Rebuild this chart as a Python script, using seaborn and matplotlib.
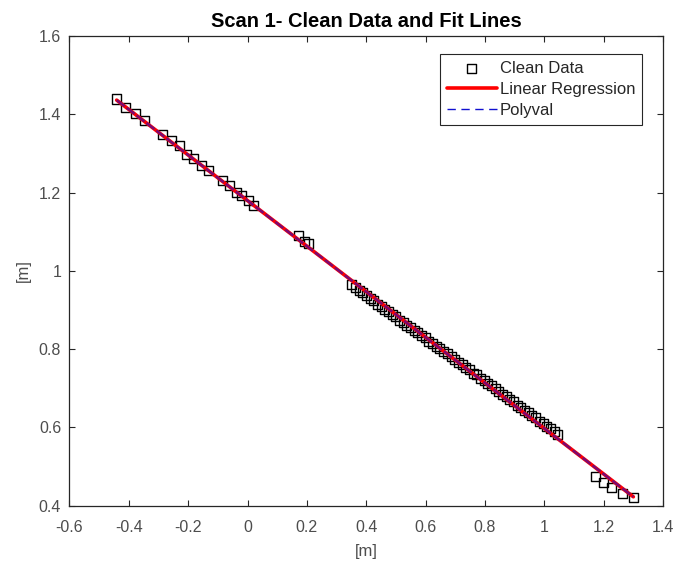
"""Scan 1 clean data with linear regression and polyval fit lines."""

import matplotlib
matplotlib.use("Agg")
import matplotlib.pyplot as plt
import numpy as np
import pandas as pd
import seaborn as sns

# clean scan points
scan_x = [
    -0.441, -0.410, -0.378, -0.346, -0.286, -0.257, -0.230, -0.205, -0.183,
    -0.155, -0.132, -0.085, -0.061, -0.037, -0.020, 0.003, 0.019,
    0.171, 0.191, 0.207,
    0.351, 0.364, 0.376, 0.388, 0.401, 0.413, 0.425, 0.438, 0.450, 0.463,
    0.475, 0.487, 0.500, 0.512, 0.524, 0.537, 0.549, 0.562, 0.574, 0.586,
    0.599, 0.611, 0.624, 0.636, 0.648, 0.661, 0.673, 0.686, 0.698, 0.710,
    0.723, 0.735, 0.748, 0.760, 0.772, 0.785, 0.797, 0.810, 0.822, 0.834,
    0.847, 0.859, 0.872, 0.884, 0.896, 0.909, 0.921, 0.934, 0.946, 0.958,
    0.971, 0.983, 0.996, 1.008, 1.020, 1.033, 1.045,
    1.174, 1.201, 1.226, 1.262, 1.300,
]
scan_y = [
    1.439, 1.418, 1.401, 1.384, 1.349, 1.332, 1.319, 1.298, 1.286,
    1.270, 1.256, 1.232, 1.219, 1.201, 1.193, 1.179, 1.167,
    1.091, 1.075, 1.069,
    0.964, 0.957, 0.951, 0.944, 0.937, 0.929, 0.924, 0.915, 0.910, 0.902,
    0.897, 0.888, 0.883, 0.874, 0.869, 0.861, 0.856, 0.847, 0.842, 0.834,
    0.829, 0.820, 0.815, 0.807, 0.802, 0.793, 0.788, 0.780, 0.774, 0.766,
    0.761, 0.752, 0.747, 0.739, 0.734, 0.725, 0.720, 0.712, 0.706, 0.699,
    0.692, 0.685, 0.679, 0.671, 0.665, 0.657, 0.652, 0.643, 0.638, 0.630,
    0.625, 0.616, 0.611, 0.603, 0.598, 0.589, 0.583,
    0.474, 0.460, 0.446, 0.432, 0.421,
]

x_ticks = [-0.6, -0.4, -0.2, 0, 0.2, 0.4, 0.6, 0.8, 1, 1.2, 1.4]
y_ticks = [0.4, 0.6, 0.8, 1, 1.2, 1.4, 1.6]
x_tick_labels = ["-0.6", "-0.4", "-0.2", "0", "0.2", "0.4", "0.6", "0.8", "1", "1.2", "1.4"]
y_tick_labels = ["0.4", "0.6", "0.8", "1", "1.2", "1.4", "1.6"]

sns.set_style("ticks")
plt.rcParams.update({
    "font.family": ["Liberation Sans", "DejaVu Sans"],
    "xtick.direction": "in", "ytick.direction": "in",
    "xtick.top": True, "ytick.right": True,
    "xtick.major.size": 4, "ytick.major.size": 4,
    "xtick.major.width": 0.8, "ytick.major.width": 0.8,
    "axes.edgecolor": "#262626", "axes.linewidth": 0.9,
    "xtick.color": "#262626", "ytick.color": "#262626",
    "xtick.labelcolor": "#4d4d4d", "ytick.labelcolor": "#4d4d4d",
})

df = pd.DataFrame({"x": scan_x, "y": scan_y})

# both fits are first-order least squares, same as the original script
lin_coef = np.polyfit(df["x"], df["y"], 1)
poly_coef = np.polyfit(df["x"], df["y"], 1)
df["lin"] = lin_coef[0] * df["x"] + lin_coef[1]
df["poly"] = np.polyval(poly_coef, df["x"])

fig = plt.figure(figsize=(6.78, 5.72), dpi=100)
ax = fig.add_axes([0.1025, 0.1159, 0.8754, 0.8212])

sns.scatterplot(data=df, x="x", y="y", ax=ax, marker="s", s=42,
                facecolor="none", edgecolor="black", linewidth=1.0,
                label="Clean Data", zorder=2)
sns.lineplot(data=df, x="x", y="lin", ax=ax, color="red", linewidth=2.6,
             estimator=None, sort=True, label="Linear Regression", zorder=3)
sns.lineplot(data=df, x="x", y="poly", ax=ax, color="#1010d0", linewidth=1.0,
             estimator=None, sort=True, label="Polyval", zorder=4)
poly_line = ax.lines[-1]
poly_line.set_dashes((6, 4))

ax.set_xlim(-0.6, 1.4)
ax.set_ylim(0.4, 1.6)
ax.set_xticks(x_ticks)
ax.set_xticklabels(x_tick_labels)
ax.set_yticks(y_ticks)
ax.set_yticklabels(y_tick_labels)
ax.tick_params(labelsize=11.5)
ax.tick_params(axis="x", pad=10)
ax.tick_params(axis="y", pad=6)
for side in ("top", "right"):
    ax.spines[side].set_visible(True)

ax.set_title("Scan 1- Clean Data and Fit Lines", fontsize=14.5, fontweight="bold",
             color="black", pad=6.5)
ax.set_xlabel("[m]", fontsize=12, color="#4d4d4d", labelpad=7)
ax.set_ylabel("[m]", fontsize=12, color="#4d4d4d", labelpad=6)

leg = ax.legend(loc="upper right", bbox_to_anchor=(0.9646, 0.9617), borderaxespad=0,
                fontsize=12, frameon=True, fancybox=False, edgecolor="#262626",
                framealpha=1, handlelength=3.0, handletextpad=0.2, borderpad=0.4,
                labelspacing=0.38)
leg.get_frame().set_linewidth(0.8)

# the dashed fit sits on the red one and blends to purple on screen;
# the legend keeps the plain blue dashes made above
poly_line.set_dashes((4, 1))
poly_line.set_linewidth(1.8)
poly_line.set_alpha(0.55)

fig.savefig("out.png", dpi=100)
plt.close(fig)
